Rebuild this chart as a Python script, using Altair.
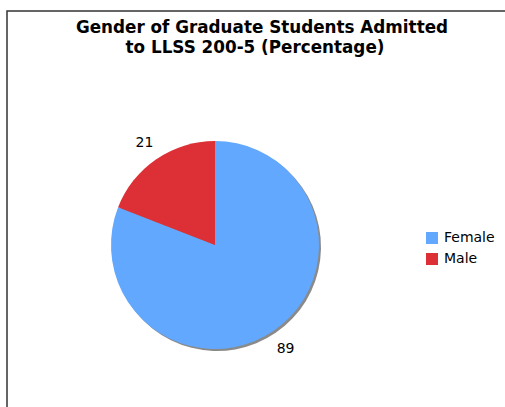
import altair as alt
import pandas as pd

genders = ["Female", "Male"]
values = [89, 21]
colors = ["#62a8ff", "#dc2f36"]
title_lines = ["Gender of Graduate Students Admitted", "to LLSS 200-5 (Percentage)"]
title_x = [262, 255]
title_y = [33, 53]

df = pd.DataFrame({"gender": genders, "value": values})
tdf = pd.DataFrame({"line": title_lines, "tx": title_x, "ty": title_y})

W, H = 505, 407
CX, CY, R = 215, 245, 104

color = alt.Color("gender:N", scale=alt.Scale(domain=genders, range=colors),
                  legend=alt.Legend(title=None, orient="none", legendX=425, legendY=231,
                                    symbolType="square", symbolSize=144, symbolStrokeWidth=0,
                                    labelFont="DejaVu Sans", labelFontSize=14, labelColor="#000",
                                    rowPadding=7, symbolOffset=0, labelOffset=5))

base = alt.Chart(df)

frame = alt.Chart(tdf.head(1)).mark_rect(fill=None, stroke="#333", strokeWidth=1.5).encode(
    x=alt.value(7), x2=alt.value(W + 20), y=alt.value(11), y2=alt.value(H + 20))

shadow = base.mark_arc(radius=R, color="#8a8a8a").encode(
    theta=alt.Theta("value:Q", stack=True), order=alt.Order("gender:N"),
    x=alt.value(CX + 2), y=alt.value(CY + 2))

pie = base.mark_arc(radius=R).encode(
    theta=alt.Theta("value:Q", stack=True), color=color, order=alt.Order("gender:N"),
    x=alt.value(CX), y=alt.value(CY))

labels = base.mark_text(radius=125, font="DejaVu Sans", fontSize=14, color="#000").encode(
    theta=alt.Theta("value:Q", stack=True), text="value:Q", order=alt.Order("gender:N"),
    x=alt.value(CX), y=alt.value(CY + 1))

title = alt.Chart(tdf).mark_text(font="DejaVu Sans", fontSize=16.8, fontWeight="bold",
                                 color="#000", baseline="alphabetic", align="center").encode(
    x=alt.X("tx:Q", scale=None), y=alt.Y("ty:Q", scale=None), text="line:N")

chart = alt.layer(frame, shadow, pie, labels, title).properties(
    width=W, height=H, padding=0, autosize=alt.AutoSizeParams(type="none")
).configure_view(stroke=None)

chart.save("out.html", embed_options={"renderer": "svg", "actions": False})
